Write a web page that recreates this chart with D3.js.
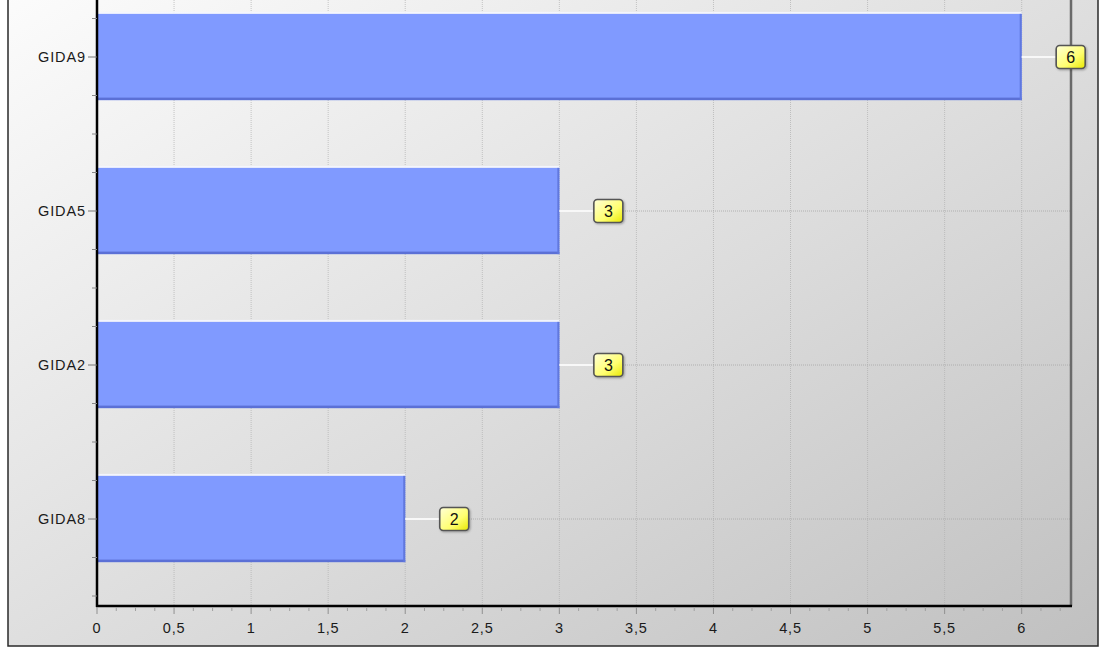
<!DOCTYPE html>
<html>
<head>
<meta charset="utf-8">
<script src="https://cdn.jsdelivr.net/npm/d3@7"></script>
<style>
  html, body { margin: 0; padding: 0; background: #ffffff; }
  svg { display: block; }
  text { font-family: "Liberation Sans", Arial, sans-serif; }
</style>
</head>
<body>
<svg id="chart" width="1101" height="649"></svg>
<script>
// Categories listed bottom to top, with their counts
const categories = ["GIDA8", "GIDA2", "GIDA5", "GIDA9"];
const values = [2, 3, 3, 6];
// Value-axis tick labels (comma decimal separator)
const xTickValues = [0, 0.5, 1, 1.5, 2, 2.5, 3, 3.5, 4, 4.5, 5, 5.5, 6];
const xTickLabels = ["0", "0,5", "1", "1,5", "2", "2,5", "3", "3,5", "4", "4,5", "5", "5,5", "6"];
const xMax = 6.32;

const svg = d3.select("#chart");
const plot = { left: 97, right: 1071, top: -20, bottom: 606 };

const x = d3.scaleLinear().domain([0, xMax]).range([plot.left, plot.right]);
const y = d3.scaleBand().domain(categories).range([596, plot.top]).padding(0);
const barH = y.bandwidth() * 0.56;

const defs = svg.append("defs");
const bg = defs.append("linearGradient").attr("id", "bg")
  .attr("x1", 0).attr("y1", 0).attr("x2", 1).attr("y2", 1);
bg.append("stop").attr("offset", "0%").attr("stop-color", "#fcfcfc");
bg.append("stop").attr("offset", "55%").attr("stop-color", "#dcdcdc");
bg.append("stop").attr("offset", "100%").attr("stop-color", "#c0c0c0");

const lab = defs.append("linearGradient").attr("id", "lab")
  .attr("x1", 0).attr("y1", 0).attr("x2", 1).attr("y2", 1);
lab.append("stop").attr("offset", "0%").attr("stop-color", "#ffffd8");
lab.append("stop").attr("offset", "60%").attr("stop-color", "#ffff70");
lab.append("stop").attr("offset", "100%").attr("stop-color", "#e8e800");

const shadow = defs.append("filter").attr("id", "sh")
  .attr("x", "-30%").attr("y", "-30%").attr("width", "160%").attr("height", "160%");
shadow.append("feDropShadow").attr("dx", 1).attr("dy", 1).attr("stdDeviation", 1)
  .attr("flood-color", "#000").attr("flood-opacity", 0.3);

// Outer frame with diagonal grey gradient
svg.append("rect").attr("x", 8).attr("y", -10).attr("width", 1090).attr("height", 656)
  .attr("fill", "url(#bg)").attr("stroke", "#2a2a2a").attr("stroke-width", 1.5);

// Vertical dotted gridlines at each labelled tick
svg.append("g").selectAll("line").data(xTickValues.slice(1)).join("line")
  .attr("x1", d => x(d)).attr("x2", d => x(d))
  .attr("y1", plot.top).attr("y2", plot.bottom)
  .attr("stroke", "#b0b0b0").attr("stroke-width", 1).attr("stroke-dasharray", "1,1")
  .attr("opacity", 0.7);

// Horizontal dotted gridlines at each category centre
svg.append("g").selectAll("line").data(categories).join("line")
  .attr("x1", plot.left).attr("x2", plot.right)
  .attr("y1", d => y(d) + y.bandwidth() / 2).attr("y2", d => y(d) + y.bandwidth() / 2)
  .attr("stroke", "#a8a8a8").attr("stroke-width", 1).attr("stroke-dasharray", "1,1")
  .attr("opacity", 0.85);

// Bars with bevelled edges
const bars = svg.append("g").selectAll("g").data(categories).join("g");
bars.each(function (c, i) {
  const g = d3.select(this);
  const top = y(c) + (y.bandwidth() - barH) / 2;
  const x0 = x(0), x1 = x(values[i]);
  g.append("rect").attr("x", x0).attr("y", top - 2).attr("width", x1 - x0).attr("height", 2)
    .attr("fill", "#f4f6ff").attr("opacity", 0.9);
  g.append("rect").attr("x", x0).attr("y", top).attr("width", x1 - x0).attr("height", barH)
    .attr("fill", "#809aff");
  g.append("rect").attr("x", x0).attr("y", top + barH - 2.5).attr("width", x1 - x0).attr("height", 2.5)
    .attr("fill", "#5b70d6");
  g.append("rect").attr("x", x1 - 2).attr("y", top).attr("width", 2).attr("height", barH)
    .attr("fill", "#6078de");
});

// Right border of plot
svg.append("line").attr("x1", plot.right).attr("x2", plot.right)
  .attr("y1", plot.top).attr("y2", plot.bottom)
  .attr("stroke", "#6a6a6a").attr("stroke-width", 2.5);

// Connector lines and value labels
const labels = svg.append("g").selectAll("g").data(categories).join("g");
labels.each(function (c, i) {
  const g = d3.select(this);
  const cy = y(c) + y.bandwidth() / 2;
  const bx = x(values[i]);
  const cx = bx + 49;
  g.append("line").attr("x1", bx).attr("x2", cx - 14).attr("y1", cy).attr("y2", cy)
    .attr("stroke", "#f8f8f8").attr("stroke-width", 2);
  g.append("rect").attr("x", cx - 14.5).attr("y", cy - 11.5).attr("width", 29).attr("height", 23)
    .attr("rx", 3.5).attr("fill", "url(#lab)").attr("stroke", "#555")
    .attr("stroke-width", 1.6).attr("filter", "url(#sh)");
  g.append("text").attr("x", cx).attr("y", cy + 6).attr("text-anchor", "middle")
    .attr("font-size", 16).attr("fill", "#111").text(values[i]);
});

// Category axis
const yAxis = svg.append("g");
yAxis.append("line").attr("x1", plot.left).attr("x2", plot.left)
  .attr("y1", plot.top).attr("y2", plot.bottom + 1)
  .attr("stroke", "#000").attr("stroke-width", 2.5);
// minor ticks every quarter band
const quarterTicks = [];
categories.forEach(c => {
  [0, 0.25, 0.75].forEach(f => quarterTicks.push(y(c) + y.bandwidth() * f));
});
quarterTicks.push(y(categories[0]) + y.bandwidth());
yAxis.selectAll("line.minor").data(quarterTicks).join("line").attr("class", "minor")
  .attr("x1", plot.left - 5).attr("x2", plot.left).attr("y1", d => d).attr("y2", d => d)
  .attr("stroke", "#888").attr("stroke-width", 1);
yAxis.selectAll("line.major").data(categories).join("line").attr("class", "major")
  .attr("x1", plot.left - 9).attr("x2", plot.left)
  .attr("y1", d => y(d) + y.bandwidth() / 2).attr("y2", d => y(d) + y.bandwidth() / 2)
  .attr("stroke", "#777").attr("stroke-width", 1);
yAxis.selectAll("text").data(categories).join("text")
  .attr("x", plot.left - 11).attr("y", d => y(d) + y.bandwidth() / 2 + 5)
  .attr("text-anchor", "end").attr("font-size", 14.5).attr("letter-spacing", 0.9)
  .attr("fill", "#1a1a1a").text(d => d);

// Value axis
const xAxis = svg.append("g");
xAxis.append("line").attr("x1", plot.left - 1).attr("x2", plot.right + 1)
  .attr("y1", plot.bottom).attr("y2", plot.bottom)
  .attr("stroke", "#000").attr("stroke-width", 2.5);
const minorX = d3.range(0, xMax, 0.125).filter(v => Math.abs(v * 2 - Math.round(v * 2)) > 1e-6);
xAxis.selectAll("line.minor").data(minorX).join("line").attr("class", "minor")
  .attr("x1", d => x(d)).attr("x2", d => x(d))
  .attr("y1", plot.bottom + 1).attr("y2", plot.bottom + 5)
  .attr("stroke", "#a0a0a0").attr("stroke-width", 1);
xAxis.selectAll("line.major").data(xTickValues).join("line").attr("class", "major")
  .attr("x1", d => x(d)).attr("x2", d => x(d))
  .attr("y1", plot.bottom + 1).attr("y2", plot.bottom + 8)
  .attr("stroke", "#909090").attr("stroke-width", 1);
xAxis.selectAll("text").data(xTickValues).join("text")
  .attr("x", d => x(d)).attr("y", plot.bottom + 27).attr("text-anchor", "middle")
  .attr("font-size", 14.5).attr("letter-spacing", 0.8)
  .attr("fill", "#1a1a1a").text((d, i) => xTickLabels[i]);
</script>
</body>
</html>
